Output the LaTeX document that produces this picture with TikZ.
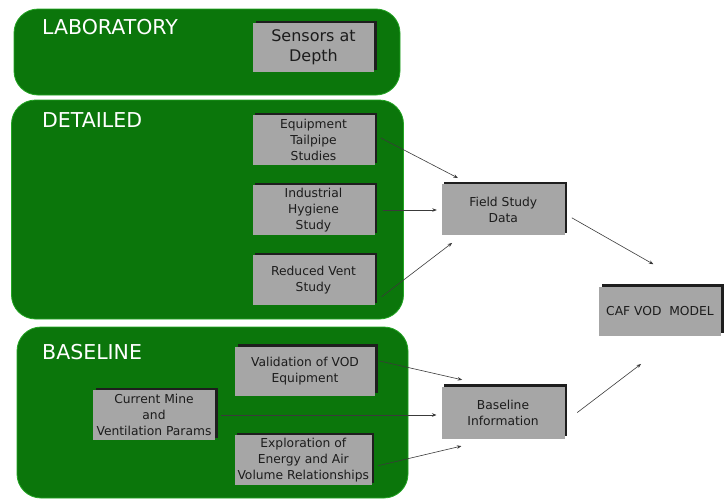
\documentclass[tikz,border=0pt]{standalone}
\usepackage{fontspec}
\setmainfont{DejaVu Sans}
\usetikzlibrary{positioning,arrows.meta,shadows}
\definecolor{panelgreen}{HTML}{0B760B}
\definecolor{paneledge}{HTML}{23A523}
\definecolor{boxgray}{HTML}{A6A6A6}
\definecolor{shadowdark}{HTML}{1E1E1E}
\definecolor{inkgray}{HTML}{1C1C1C}
\definecolor{linkgray}{HTML}{3A3A3A}

\begin{document}
\begin{tikzpicture}[x=1pt,y=-1pt,
  panel/.style={fill=panelgreen,draw=paneledge,line width=0.8pt,rounded corners=24pt,inner sep=0pt,outer sep=0pt},
  ttl/.style={font=\fontsize{20.5}{24}\selectfont,text=white,anchor=base west,inner sep=0pt},
  box/.style={fill=boxgray,text=inkgray,align=center,inner sep=1.5pt,outer sep=0pt,minimum width=122pt,minimum height=50pt,font=\fontsize{12.3}{16}\selectfont,general shadow={fill=shadowdark,shadow xshift=2.5pt,shadow yshift=2.5pt}},
  arr/.style={-{Stealth[length=4.5pt,width=3.5pt]},draw=linkgray,line width=0.6pt}]
\useasboundingbox (0,0) rectangle (728,498);
% panels
\node[panel,minimum width=386pt,minimum height=86pt] (labp) at (207,52) {};
\node[panel,minimum width=392pt,minimum height=219pt] (detp) at (207.5,209.5) {};
\node[panel,minimum width=391pt,minimum height=171pt] (basp) at (212.5,412.5) {};
\node[ttl] (labt) at (42,34) {LABORATORY};
\node[ttl] (dett) at (42,127) {DETAILED};
\node[ttl] (bast) at (42,359) {BASELINE};
% boxes
\node[box,font=\fontsize{16}{20}\selectfont,minimum width=121pt,minimum height=49pt] (sens) at (313.5,47.5) {Sensors at\\Depth};
\node[box] (eqp) at (313.5,140) {Equipment\\Tailpipe\\Studies};
\node[box] (ihs) at (313.5,210) {Industrial\\Hygiene\\Study};
\node[box] (rvs) at (313.5,280) {Reduced Vent\\Study};
\node[box,minimum width=123pt,minimum height=51pt] (fsd) at (503.3,209.5) {Field Study\\Data};
\node[box,minimum height=49pt] (caf) at (660,311) {CAF VOD\ \ MODEL};
\node[box,minimum width=140pt,minimum height=49pt] (vod) at (305,371) {Validation of VOD\\Equipment};
\node[box] (cmv) at (154,415) {Current Mine\\and\\Ventilation Params};
\node[box,minimum width=137pt] (eae) at (303.3,460) {Exploration of\\Energy and Air\\Volume Relationships};
\node[box,minimum width=123pt,minimum height=52pt] (bsl) at (503,412.5) {Baseline\\Information};
% links
\draw[arr,shorten <=7pt,shorten >=13pt] (eqp.5) -- (fsd.143);
\draw[arr,shorten <=8pt,shorten >=5pt] (ihs.east) -- (ihs.east -| fsd.west);
\draw[arr,shorten <=9pt,shorten >=13pt] (rvs.-20) -- (fsd.212);
\draw[arr,shorten <=8pt,shorten >=45pt] (fsd.-4) -- (caf.37);
\draw[arr,shorten <=16pt,shorten >=47pt] (bsl.-9) -- (caf.-53);
\draw[arr,shorten <=4pt,shorten >=30pt] (vod.9) -- (bsl.114);
\draw[arr,shorten <=6pt,shorten >=5pt] (cmv.east) -- (cmv.east -| bsl.west);
\draw[arr,shorten <=6.5pt,shorten >=33pt] (eae.-6) -- (bsl.250);
\end{tikzpicture}
\end{document}
